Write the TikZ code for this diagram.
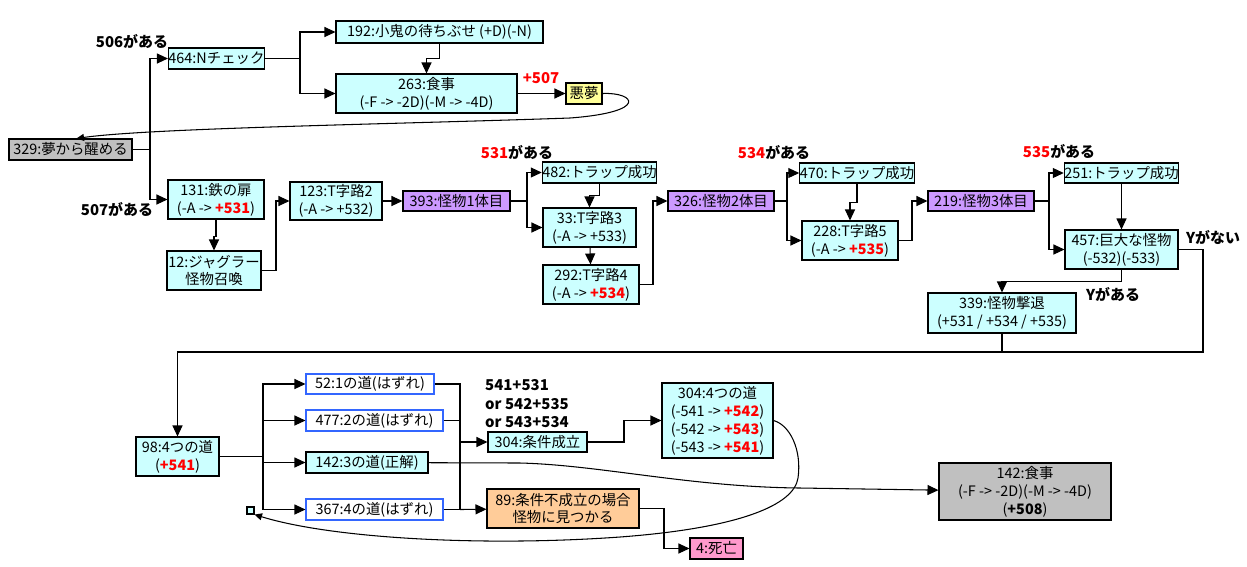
\documentclass[tikz,border=0pt]{standalone}
\usepackage{fontspec}
\setmainfont{Noto Sans CJK JP}
\usetikzlibrary{arrows.meta}
\definecolor{hellcyan}{RGB}{204,255,255}
\definecolor{grau}{RGB}{192,192,192}
\definecolor{lila}{RGB}{204,153,255}
\definecolor{gelb}{RGB}{255,255,153}
\definecolor{orange}{RGB}{255,204,153}
\definecolor{rosa}{RGB}{255,153,204}
\definecolor{blau}{RGB}{51,102,255}
\definecolor{rot}{RGB}{255,0,0}
\tikzset{%
		abschnitt/.style={draw,fill=hellcyan,inner sep=0pt,align=center,line width=0.6pt},
		gross/.style 2 args={minimum width=#1*0.02cm,minimum height=#2*0.02cm},
		falsch/.style={abschnitt,draw=blau,fill=white},
		pfeil/.style={draw,line width=0.6pt,-{Triangle[length=0.22cm,width=0.2cm]}},
		kpfeil/.style={draw,line width=0.6pt,-{Triangle[length=0.15cm,width=0.14cm]}},
		linie/.style={draw,line width=0.6pt},
		marke/.style={font=\fontsize{8.5}{10.5}\selectfont\bfseries}
	}
\newcommand{\plus}[1]{{\color{rot}\bfseries #1}}

\begin{document}
\begin{tikzpicture}[x=0.02cm,y=-0.02cm,font=\fontsize{8.2}{10.2}\selectfont]
    \useasboundingbox (0,0) rectangle (1247,566);
    % Traum
    \node[abschnitt,fill=grau,gross={123}{21}] (n329) at (70.5,149.5) {329:夢から醒める};
    \node[abschnitt,gross={95}{21}] (n464) at (216.5,58.5) {464:Nチェック};
    \node[abschnitt,gross={207}{22}] (n192) at (439.5,32) {192:小鬼の待ちぶせ (+D)(-N)};
    \node[abschnitt,gross={181}{39}] (n263) at (426.5,93.5) {263:食事\\(-F -> -2D)(-M -> -4D)};
    \node[abschnitt,fill=gelb,gross={36}{21}] (nalb) at (584,93.5) {悪夢};
    \node[marke] at (132,41) {506がある};
    \node[marke] at (117,209) {507がある};
    \node[marke,text=rot] at (541,78) {+507};
    % Monster 1
    \node[abschnitt,gross={96}{39}] (n131) at (216,199.5) {131:鉄の扉\\(-A -> \plus{+531})};
    \node[abschnitt,gross={94}{39}] (n12) at (214,270.5) {12:ジャグラー\\怪物召喚};
    \node[abschnitt,gross={92}{38}] (n123) at (336,201) {123:T字路2\\(-A -> +532)};
    \node[abschnitt,fill=lila,gross={107}{20}] (n393) at (456.5,201) {393:怪物1体目};
    \node[abschnitt,gross={113}{21}] (n482) at (599.5,172.5) {482:トラップ成功};
    \node[abschnitt,gross={93}{39}] (n33) at (589.5,227.5) {33:T字路3\\(-A -> +533)};
    \node[abschnitt,gross={96}{39}] (n292) at (591,284.5) {292:T字路4\\(-A -> \plus{+534})};
    \node[marke] at (517,152) {\textcolor{rot}{531}がある};
    % Monster 2
    \node[abschnitt,fill=lila,gross={106}{20}] (n326) at (721,201) {326:怪物2体目};
    \node[abschnitt,gross={110}{20}] (n470) at (857,173) {470:トラップ成功};
    \node[abschnitt,gross={96}{39}] (n228) at (850,240.5) {228:T字路5\\(-A -> \plus{+535})};
    \node[marke] at (774,152) {\textcolor{rot}{534}がある};
    % Monster 3
    \node[abschnitt,fill=lila,gross={106}{20}] (n219) at (981,201) {219:怪物3体目};
    \node[abschnitt,gross={113}{20}] (n251) at (1121.5,173) {251:トラップ成功};
    \node[abschnitt,gross={113}{39}] (n457) at (1121.5,249.5) {457:巨大な怪物\\(-532)(-533)};
    \node[abschnitt,gross={148}{40}] (n339) at (1002,313) {339:怪物撃退\\(+531 / +534 / +535)};
    \node[marke] at (1059,151) {\textcolor{rot}{535}がある};
    \node[marke] at (1213,237) {Yがない};
    \node[marke] at (1113,294) {Yがある};
    % vier Wege
    \node[abschnitt,gross={83}{39}] (n98) at (177.5,456.5) {98:4つの道\\(\plus{+541})};
    \node[falsch,gross={128}{20}] (n52) at (370,384) {52:1の道(はずれ)};
    \node[falsch,gross={137}{21}] (n477) at (374.5,420.5) {477:2の道(はずれ)};
    \node[abschnitt,gross={122}{21}] (n142a) at (367,462.5) {142:3の道(正解)};
    \node[falsch,gross={137}{21}] (n367) at (374.5,509.5) {367:4の道(はずれ)};
    \node[abschnitt,gross={7}{7}] (nsq) at (250.5,510.5) {};
    \node[abschnitt,gross={99}{20}] (n304a) at (537.5,442) {304:条件成立};
    \node[abschnitt,gross={111}{75}] (n304b) at (717.5,420.5) {304:4つの道\\(-541 -> \plus{+542})\\(-542 -> \plus{+543})\\(-543 -> \plus{+541})};
    \node[abschnitt,fill=orange,gross={152}{39}] (n89) at (563,508.5) {89:条件不成立の場合\\怪物に見つかる};
    \node[abschnitt,fill=rosa,gross={53}{21}] (n4) at (716.5,548.5) {4:死亡};
    \node[abschnitt,fill=grau,gross={172}{57}] (n142b) at (1025,491.5) {142:食事\\(-F -> -2D)(-M -> -4D)\\({\bfseries +508})};
    \node[marke,anchor=west,align=left] at (479,404) {541+531\\or 542+535\\or 543+534};
    % Verbindungen
    \coordinate (v329) at (150,149.5);
    \draw[linie] (n329) -- (v329);
    \draw[pfeil] (v329) |- (n464);
    \draw[pfeil] (v329) |- (n131);
    \coordinate (v464) at (300,58.5);
    \draw[linie] (n464) -- (v464);
    \draw[pfeil] (v464) |- (n192);
    \draw[pfeil] (v464) |- (n263);
    \draw[pfeil] (n192.south) -- ++(0,15) -| (n263);
    \draw[pfeil] (n263) -- (nalb);
    \draw[kpfeil] (nalb.east) .. controls (635,92) and (650,112) .. (570,118) .. controls (400,124) and (150,128) .. ([xshift=0.12cm]n329.north);
    \draw[pfeil] (n131.south) -- ++(0,17) -| (n12);
    \draw[pfeil] (n12) -- (276,270.5) |- (n123);
    \draw[pfeil] (n123) -- (n393);
    \coordinate (v393) at (527,201);
    \draw[linie] (n393) -- (v393);
    \draw[pfeil] (v393) |- (n482);
    \draw[pfeil] (v393) |- (n33);
    \draw[pfeil] (n482.south) -- ++(0,12) -| (n33);
    \draw[pfeil] (n33) -- (n292);
    \draw[pfeil] (n292) -- (653,284.5) |- (n326);
    \coordinate (v326) at (787,201);
    \draw[linie] (n326) -- (v326);
    \draw[pfeil] (v326) |- (n470);
    \draw[pfeil] (v326) |- (n228);
    \draw[pfeil] (n470.south) -- ++(0,19) -| (n228);
    \draw[pfeil] (n228) -- (912,240.5) |- (n219);
    \coordinate (v219) at (1049,201);
    \draw[linie] (n219) -- (v219);
    \draw[pfeil] (v219) |- (n251);
    \draw[pfeil] (v219) |- (n457);
    \draw[pfeil] (n251) -- (n457);
    \draw[pfeil] (n457.south) -- ++(0,12) -| (n339);
    \coordinate (v457) at (1203,352);
    \draw[pfeil] (n457) -- (1203,249.5) -- (v457) -| (n98);
    \draw[linie] (n339) -- (n339 |- v457);
    \coordinate (v98) at (263,456.5);
    \draw[linie] (n98) -- (v98);
    \draw[pfeil] (v98) |- (n52);
    \draw[pfeil] (v98) |- (n477);
    \draw[pfeil] (v98) |- (n142a);
    \draw[pfeil] (v98) |- (n367);
    \coordinate (w52) at (460,384);
    \coordinate (w367) at (460,509.5);
    \draw[linie] (n52) -- (w52) -- (w367);
    \draw[linie] (n477) -- (460,420.5);
    \draw[linie] (n367) -- (w367);
    \draw[pfeil] (w52) |- (n304a);
    \draw[pfeil] (w367) -- (n89);
    \draw[pfeil] (n304a) -- (624,442) |- (n304b);
    \draw[pfeil] (n89) -- (664,508.5) |- (n4);
    \draw[pfeil] (n142a) -- (520,463) .. controls (600,465) and (690,487) .. (800,488) -- (n142b);
    \draw[kpfeil] (n304b.east) .. controls (790,425) and (802,450) .. (798,478) .. controls (794,505) and (740,528) .. (620,537) .. controls (480,547) and (330,538) .. (nsq.south east);
\end{tikzpicture}
\end{document}
